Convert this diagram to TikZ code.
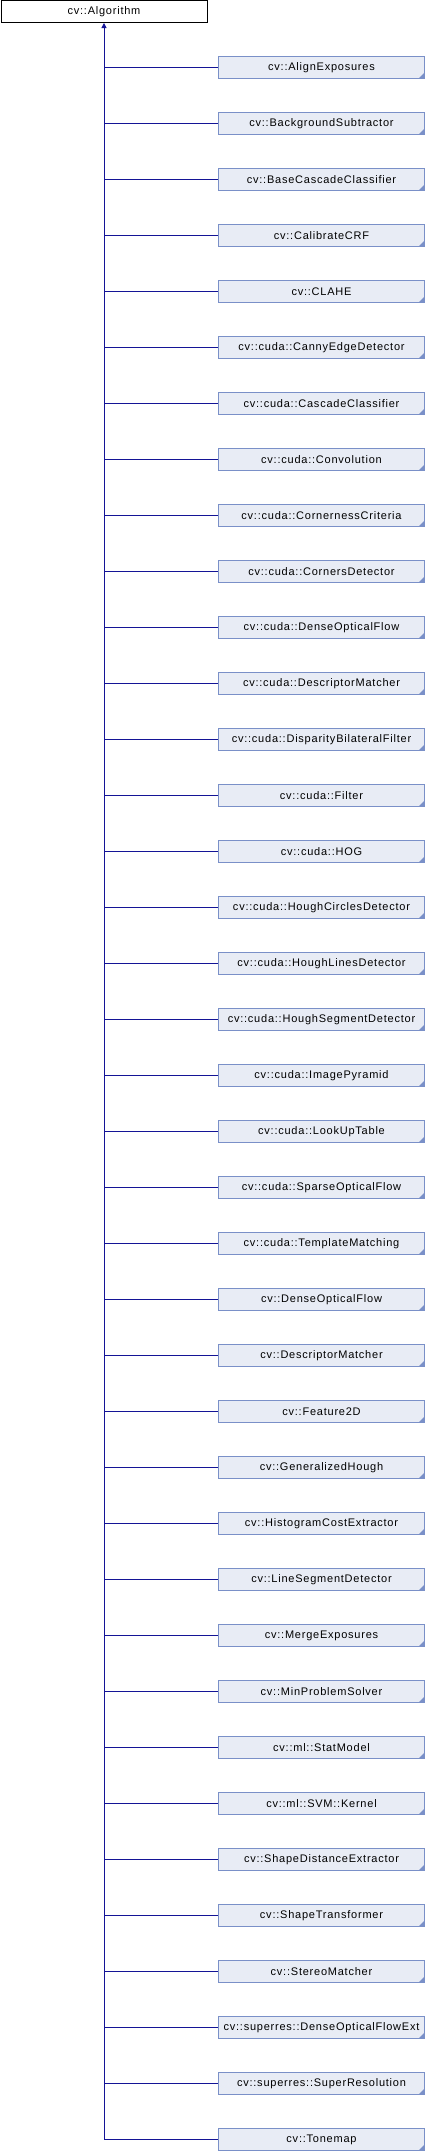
\documentclass[tikz,border=0pt]{standalone}
\usepackage{fontspec}
\setmainfont{Liberation Sans}[LetterSpace=7]
\usetikzlibrary{arrows.meta}
\definecolor{boxfill}{RGB}{232,236,245}
\definecolor{boxline}{RGB}{122,144,200}
\definecolor{edgeblue}{RGB}{20,20,150}
\begin{document}
\begin{tikzpicture}[
    x=1pt, y=-1pt,
    every node/.style={font=\fontsize{11}{13}\selectfont},
    base/.style={draw=black, fill=white, line width=1pt, minimum width=206pt, minimum height=22pt, inner sep=0pt},
    derived/.style={base, draw=boxline, fill=boxfill, path picture={
        \fill[boxline] (path picture bounding box.south east) -- ++(-6pt,0pt) -- ++(6pt,6pt) -- cycle;}},
    inh/.style={draw=edgeblue, line width=1pt},
]
\useasboundingbox (0,0) rectangle (426,2152);
% Base class
\node[base] (alg) at (104,11.5) {cv::Algorithm};
% Derived classes
\node[derived] (c1)  at (321.5,67.5)   {cv::AlignExposures};
\node[derived] (c2)  at (321.5,123.5)  {cv::BackgroundSubtractor};
\node[derived] (c3)  at (321.5,179.5)  {cv::BaseCascadeClassifier};
\node[derived] (c4)  at (321.5,235.5)  {cv::CalibrateCRF};
\node[derived] (c5)  at (321.5,291.5)  {cv::CLAHE};
\node[derived] (c6)  at (321.5,347.5)  {cv::cuda::CannyEdgeDetector};
\node[derived] (c7)  at (321.5,403.5)  {cv::cuda::CascadeClassifier};
\node[derived] (c8)  at (321.5,459.5)  {cv::cuda::Convolution};
\node[derived] (c9)  at (321.5,515.5)  {cv::cuda::CornernessCriteria};
\node[derived] (c10) at (321.5,571.5)  {cv::cuda::CornersDetector};
\node[derived] (c11) at (321.5,627.5)  {cv::cuda::DenseOpticalFlow};
\node[derived] (c12) at (321.5,683.5)  {cv::cuda::DescriptorMatcher};
\node[derived] (c13) at (321.5,739.5)  {cv::cuda::DisparityBilateralFilter};
\node[derived] (c14) at (321.5,795.5)  {cv::cuda::Filter};
\node[derived] (c15) at (321.5,851.5)  {cv::cuda::HOG};
\node[derived] (c16) at (321.5,907.5)  {cv::cuda::HoughCirclesDetector};
\node[derived] (c17) at (321.5,963.5)  {cv::cuda::HoughLinesDetector};
\node[derived] (c18) at (321.5,1019.5) {cv::cuda::HoughSegmentDetector};
\node[derived] (c19) at (321.5,1075.5) {cv::cuda::ImagePyramid};
\node[derived] (c20) at (321.5,1131.5) {cv::cuda::LookUpTable};
\node[derived] (c21) at (321.5,1187.5) {cv::cuda::SparseOpticalFlow};
\node[derived] (c22) at (321.5,1243.5) {cv::cuda::TemplateMatching};
\node[derived] (c23) at (321.5,1299.5) {cv::DenseOpticalFlow};
\node[derived] (c24) at (321.5,1355.5) {cv::DescriptorMatcher};
\node[derived] (c25) at (321.5,1411.5) {cv::Feature2D};
\node[derived] (c26) at (321.5,1467.5) {cv::GeneralizedHough};
\node[derived] (c27) at (321.5,1523.5) {cv::HistogramCostExtractor};
\node[derived] (c28) at (321.5,1579.5) {cv::LineSegmentDetector};
\node[derived] (c29) at (321.5,1635.5) {cv::MergeExposures};
\node[derived] (c30) at (321.5,1691.5) {cv::MinProblemSolver};
\node[derived] (c31) at (321.5,1747.5) {cv::ml::StatModel};
\node[derived] (c32) at (321.5,1803.5) {cv::ml::SVM::Kernel};
\node[derived] (c33) at (321.5,1859.5) {cv::ShapeDistanceExtractor};
\node[derived] (c34) at (321.5,1915.5) {cv::ShapeTransformer};
\node[derived] (c35) at (321.5,1971.5) {cv::StereoMatcher};
\node[derived] (c36) at (321.5,2027.5) {cv::superres::DenseOpticalFlowExt};
\node[derived] (c37) at (321.5,2083.5) {cv::superres::SuperResolution};
\node[derived] (c38) at (321.5,2139.5) {cv::Tonemap};
% Inheritance trunk with arrow into the base class
\draw[inh, -{Triangle[length=5pt, width=5pt]}] (c38.west) -| (alg.south);
% Branches from trunk to each derived class
\draw[inh] (c1.west)  -- (c1.west -| alg.south);
\draw[inh] (c2.west)  -- (c2.west -| alg.south);
\draw[inh] (c3.west)  -- (c3.west -| alg.south);
\draw[inh] (c4.west)  -- (c4.west -| alg.south);
\draw[inh] (c5.west)  -- (c5.west -| alg.south);
\draw[inh] (c6.west)  -- (c6.west -| alg.south);
\draw[inh] (c7.west)  -- (c7.west -| alg.south);
\draw[inh] (c8.west)  -- (c8.west -| alg.south);
\draw[inh] (c9.west)  -- (c9.west -| alg.south);
\draw[inh] (c10.west) -- (c10.west -| alg.south);
\draw[inh] (c11.west) -- (c11.west -| alg.south);
\draw[inh] (c12.west) -- (c12.west -| alg.south);
\draw[inh] (c13.west) -- (c13.west -| alg.south);
\draw[inh] (c14.west) -- (c14.west -| alg.south);
\draw[inh] (c15.west) -- (c15.west -| alg.south);
\draw[inh] (c16.west) -- (c16.west -| alg.south);
\draw[inh] (c17.west) -- (c17.west -| alg.south);
\draw[inh] (c18.west) -- (c18.west -| alg.south);
\draw[inh] (c19.west) -- (c19.west -| alg.south);
\draw[inh] (c20.west) -- (c20.west -| alg.south);
\draw[inh] (c21.west) -- (c21.west -| alg.south);
\draw[inh] (c22.west) -- (c22.west -| alg.south);
\draw[inh] (c23.west) -- (c23.west -| alg.south);
\draw[inh] (c24.west) -- (c24.west -| alg.south);
\draw[inh] (c25.west) -- (c25.west -| alg.south);
\draw[inh] (c26.west) -- (c26.west -| alg.south);
\draw[inh] (c27.west) -- (c27.west -| alg.south);
\draw[inh] (c28.west) -- (c28.west -| alg.south);
\draw[inh] (c29.west) -- (c29.west -| alg.south);
\draw[inh] (c30.west) -- (c30.west -| alg.south);
\draw[inh] (c31.west) -- (c31.west -| alg.south);
\draw[inh] (c32.west) -- (c32.west -| alg.south);
\draw[inh] (c33.west) -- (c33.west -| alg.south);
\draw[inh] (c34.west) -- (c34.west -| alg.south);
\draw[inh] (c35.west) -- (c35.west -| alg.south);
\draw[inh] (c36.west) -- (c36.west -| alg.south);
\draw[inh] (c37.west) -- (c37.west -| alg.south);
\end{tikzpicture}
\end{document}
